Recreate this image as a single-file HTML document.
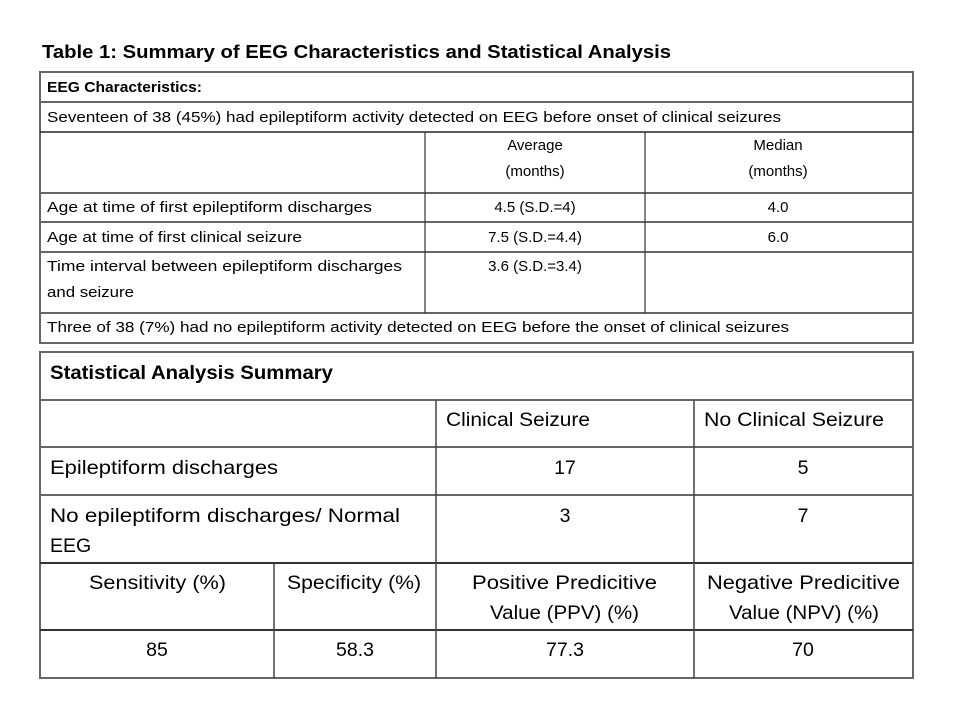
<!DOCTYPE html>
<html><head><style>
body{margin:0;background:#fff;}
svg{display:block}
text{font-family:"Liberation Sans",sans-serif;fill:#000}
</style></head><body>
<svg width="960" height="720" xmlns="http://www.w3.org/2000/svg">
<text x="42" y="58" font-size="18" font-weight="bold" textLength="629" lengthAdjust="spacingAndGlyphs">Table 1: Summary of EEG Characteristics and Statistical Analysis</text>
<g stroke="#666" stroke-width="2" fill="none">
<rect x="40" y="72" width="873" height="271"/>
<line x1="40" y1="102" x2="913" y2="102"/>
<line x1="40" y1="132" x2="913" y2="132" stroke="#222" stroke-width="1.5"/>
<line x1="40" y1="193" x2="913" y2="193"/>
<line x1="40" y1="222" x2="913" y2="222"/>
<line x1="40" y1="252" x2="913" y2="252"/>
<line x1="40" y1="313" x2="913" y2="313"/>
<line x1="425" y1="132" x2="425" y2="313" stroke="#333" stroke-width="1.2"/>
<line x1="645" y1="132" x2="645" y2="313" stroke="#333" stroke-width="1.2"/>
<rect x="40" y="352" width="873" height="326"/>
<line x1="40" y1="400" x2="913" y2="400"/>
<line x1="40" y1="447" x2="913" y2="447"/>
<line x1="40" y1="495" x2="913" y2="495"/>
<line x1="40" y1="563" x2="913" y2="563" stroke="#333"/>
<line x1="40" y1="630" x2="913" y2="630" stroke="#333"/>
<line x1="436" y1="400" x2="436" y2="678" stroke="#444" stroke-width="1.5"/>
<line x1="694" y1="400" x2="694" y2="678" stroke="#444" stroke-width="1.5"/>
<line x1="274" y1="563" x2="274" y2="678" stroke="#444" stroke-width="1.5"/>
</g>
<g font-size="15" lengthAdjust="spacingAndGlyphs">
<text x="47" y="92" font-weight="bold" textLength="155" lengthAdjust="spacingAndGlyphs">EEG Characteristics:</text>
<text x="47" y="122" textLength="734" lengthAdjust="spacingAndGlyphs">Seventeen of 38 (45%) had epileptiform activity detected on EEG before onset of clinical seizures</text>
<text x="535" y="150" text-anchor="middle">Average</text>
<text x="535" y="176" text-anchor="middle">(months)</text>
<text x="778" y="150" text-anchor="middle">Median</text>
<text x="778" y="176" text-anchor="middle">(months)</text>
<text x="47" y="212" textLength="325" lengthAdjust="spacingAndGlyphs">Age at time of first epileptiform discharges</text>
<text x="535" y="212" text-anchor="middle">4.5 (S.D.=4)</text>
<text x="778" y="212" text-anchor="middle">4.0</text>
<text x="47" y="242" textLength="255" lengthAdjust="spacingAndGlyphs">Age at time of first clinical seizure</text>
<text x="535" y="242" text-anchor="middle">7.5 (S.D.=4.4)</text>
<text x="778" y="242" text-anchor="middle">6.0</text>
<text x="47" y="271" textLength="355" lengthAdjust="spacingAndGlyphs">Time interval between epileptiform discharges</text>
<text x="47" y="297" textLength="87" lengthAdjust="spacingAndGlyphs">and seizure</text>
<text x="535" y="271" text-anchor="middle">3.6 (S.D.=3.4)</text>
<text x="47" y="332" textLength="742" lengthAdjust="spacingAndGlyphs">Three of 38 (7%) had no epileptiform activity detected on EEG before the onset of clinical seizures</text>
</g>
<g font-size="19.5">
<text x="50" y="379" font-weight="bold" textLength="283" lengthAdjust="spacingAndGlyphs">Statistical Analysis Summary</text>
<text x="446" y="426" textLength="144" lengthAdjust="spacingAndGlyphs">Clinical Seizure</text>
<text x="704" y="426" textLength="180" lengthAdjust="spacingAndGlyphs">No Clinical Seizure</text>
<text x="50" y="474" textLength="228" lengthAdjust="spacingAndGlyphs">Epileptiform discharges</text>
<text x="565" y="474" text-anchor="middle">17</text>
<text x="803" y="474" text-anchor="middle">5</text>
<text x="50" y="522" textLength="350" lengthAdjust="spacingAndGlyphs">No epileptiform discharges/ Normal</text>
<text x="50" y="552">EEG</text>
<text x="565" y="522" text-anchor="middle">3</text>
<text x="803" y="522" text-anchor="middle">7</text>
<text x="89" y="589" textLength="137" lengthAdjust="spacingAndGlyphs">Sensitivity (%)</text>
<text x="287" y="589" textLength="134" lengthAdjust="spacingAndGlyphs">Specificity (%)</text>
<text x="472" y="589" textLength="185" lengthAdjust="spacingAndGlyphs">Positive Predicitive</text>
<text x="490" y="619" textLength="149" lengthAdjust="spacingAndGlyphs">Value (PPV)  (%)</text>
<text x="707" y="589" textLength="193" lengthAdjust="spacingAndGlyphs">Negative Predicitive</text>
<text x="729" y="619" textLength="150" lengthAdjust="spacingAndGlyphs">Value (NPV) (%)</text>
<text x="157" y="656" text-anchor="middle">85</text>
<text x="355" y="656" text-anchor="middle">58.3</text>
<text x="565" y="656" text-anchor="middle">77.3</text>
<text x="803" y="656" text-anchor="middle">70</text>
</g>
</svg>
</body></html>
